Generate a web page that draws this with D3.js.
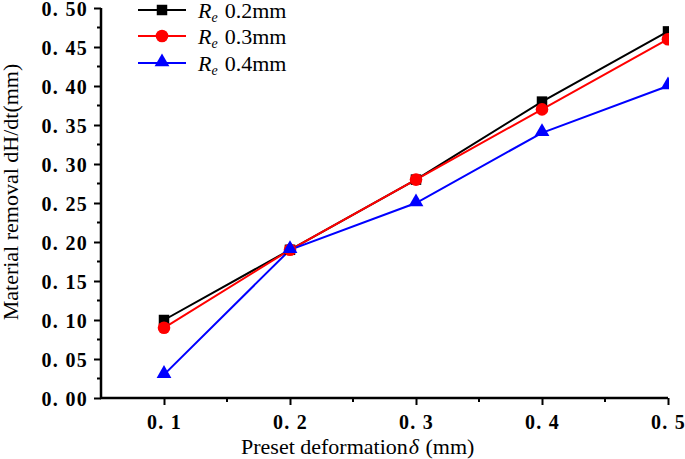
<!DOCTYPE html>
<html><head><meta charset="utf-8">
<script src="https://cdn.jsdelivr.net/npm/d3@7/dist/d3.min.js"></script>
<style>body{margin:0;background:#fff}svg{display:block}</style>
</head><body>
<svg id="c" width="685" height="459"></svg>
<script>
const xValues = [0.1, 0.2, 0.3, 0.4, 0.5];
const re02 = [0.10, 0.19, 0.28, 0.38, 0.47];
const re03 = [0.09, 0.19, 0.28, 0.37, 0.46];
const re04 = [0.03, 0.19, 0.25, 0.34, 0.40];
const seriesNames = ["0.2mm", "0.3mm", "0.4mm"];
const seriesColors = ["#000000", "#ff0000", "#0000ff"];
const seriesShapes = ["square", "circle", "triangle"];
const yTicks = [0, 0.05, 0.10, 0.15, 0.20, 0.25, 0.30, 0.35, 0.40, 0.45, 0.50];
const xTickLabels = ["0. 1", "0. 2", "0. 3", "0. 4", "0. 5"];
const yTitle = "Material removal dH/dt(mm)";

const svg = d3.select("#c");
const L = 101, R = 668, T = 8, B = 398;
const x = d3.scaleLinear().domain([0.05, 0.5]).range([L, R]);
const y = d3.scaleLinear().domain([0, 0.5]).range([B, T]);

const tickFont = "'Liberation Serif', 'Times New Roman', serif";
const titleFont = "'Liberation Serif', 'Times New Roman', serif";

// clip
svg.append("defs").append("clipPath").attr("id","clip")
  .append("rect").attr("x", 0).attr("y", 0).attr("width", R + 1).attr("height", 459);

// Y axis
const yAxis = d3.axisLeft(y).tickValues(yTicks).tickSize(7).tickPadding(6)
  .tickFormat(d => { const s = d.toFixed(2); return s.replace(".", ". "); });
const gy = svg.append("g").attr("transform", `translate(${L},0)`).call(yAxis);
gy.select(".domain").remove();
gy.selectAll("line").attr("stroke","#000").attr("stroke-width",2);
gy.selectAll("text").attr("font-family", tickFont).attr("font-size", 20).attr("font-weight","bold")
  .attr("letter-spacing", "1.3px").attr("fill","#000").attr("dy","0.36em");
const yMinor = d3.range(0.025, 0.5, 0.05);
svg.append("g").selectAll("line").data(yMinor).join("line")
  .attr("x1", L - 4).attr("x2", L).attr("y1", d => y(d)).attr("y2", d => y(d))
  .attr("stroke","#000").attr("stroke-width",2);

// X axis
const xAxis = d3.axisBottom(x).tickValues(xValues).tickSize(7).tickPadding(10)
  .tickFormat((d,i) => xTickLabels[i]);
const gx = svg.append("g").attr("transform", `translate(0,${B})`).call(xAxis);
gx.select(".domain").remove();
gx.selectAll("line").attr("stroke","#000").attr("stroke-width",2);
gx.selectAll("text").attr("font-family", tickFont).attr("font-size", 20).attr("font-weight","bold")
  .attr("letter-spacing", "1.3px").attr("fill","#000");
const xMinor = [0.15, 0.25, 0.35, 0.45];
svg.append("g").selectAll("line").data(xMinor).join("line")
  .attr("x1", d => x(d)).attr("x2", d => x(d)).attr("y1", B).attr("y2", B + 4)
  .attr("stroke","#000").attr("stroke-width",2);

// axis lines
svg.append("line").attr("x1", L).attr("x2", L).attr("y1", T).attr("y2", B + 1)
  .attr("stroke","#000").attr("stroke-width",2.5);
svg.append("line").attr("x1", L - 1).attr("x2", R).attr("y1", B).attr("y2", B)
  .attr("stroke","#000").attr("stroke-width",2.5);

// titles
svg.append("text").attr("transform", `translate(18,192) rotate(-90)`)
  .attr("text-anchor","middle").attr("font-family", titleFont).attr("font-size", 22)
  .attr("fill","#000").text(yTitle);
const xt = svg.append("text").attr("x", 241).attr("y", 454)
  .attr("font-family", titleFont).attr("font-size", 22).attr("fill","#000");
xt.append("tspan").text("Preset deformation");
xt.append("tspan").attr("font-style","italic").attr("dx", 1).text("δ");
xt.append("tspan").attr("dx", 1).text(" (mm)");

// series
const allSeries = [re02, re03, re04];
const symbolFor = s => s === "square" ? d3.symbolSquare : s === "circle" ? d3.symbolCircle : d3.symbolTriangle;
const symbolSize = s => s === "square" ? 110 : s === "circle" ? 125 : 95;
const plot = svg.append("g").attr("clip-path","url(#clip)");
const line = d3.line().x((d,i) => x(xValues[i])).y(d => y(d));
allSeries.forEach((vals, k) => {
  plot.append("path").datum(vals).attr("d", line).attr("fill","none")
    .attr("stroke", seriesColors[k]).attr("stroke-width", 2);
});
allSeries.forEach((vals, k) => {
  plot.append("g").selectAll("path").data(vals).join("path")
    .attr("transform", (d,i) => `translate(${x(xValues[i])},${y(d) + (seriesShapes[k]==="triangle" ? -1 : 0)})`)
    .attr("d", d3.symbol().type(symbolFor(seriesShapes[k])).size(symbolSize(seriesShapes[k])))
    .attr("fill", seriesColors[k]);
});

// legend
const legRows = [10, 36, 63];
seriesNames.forEach((name, k) => {
  const g = svg.append("g").attr("transform", `translate(0,${legRows[k]})`);
  g.append("line").attr("x1", 138).attr("x2", 186).attr("y1", 0).attr("y2", 0)
    .attr("stroke", seriesColors[k]).attr("stroke-width", 2);
  g.append("path").attr("transform", `translate(162,${seriesShapes[k]==="triangle" ? -1 : 0})`)
    .attr("d", d3.symbol().type(symbolFor(seriesShapes[k])).size(symbolSize(seriesShapes[k])))
    .attr("fill", seriesColors[k]);
  const t = g.append("text").attr("x", 198).attr("y", 8)
    .attr("font-family", titleFont).attr("font-size", 22).attr("fill","#000");
  t.append("tspan").attr("font-style","italic").text("R");
  t.append("tspan").attr("font-style","italic").attr("font-size", 14).attr("dy", 4).text("e");
  t.append("tspan").attr("dy", -4).attr("dx", 7).text(name);
});
</script>
</body></html>
